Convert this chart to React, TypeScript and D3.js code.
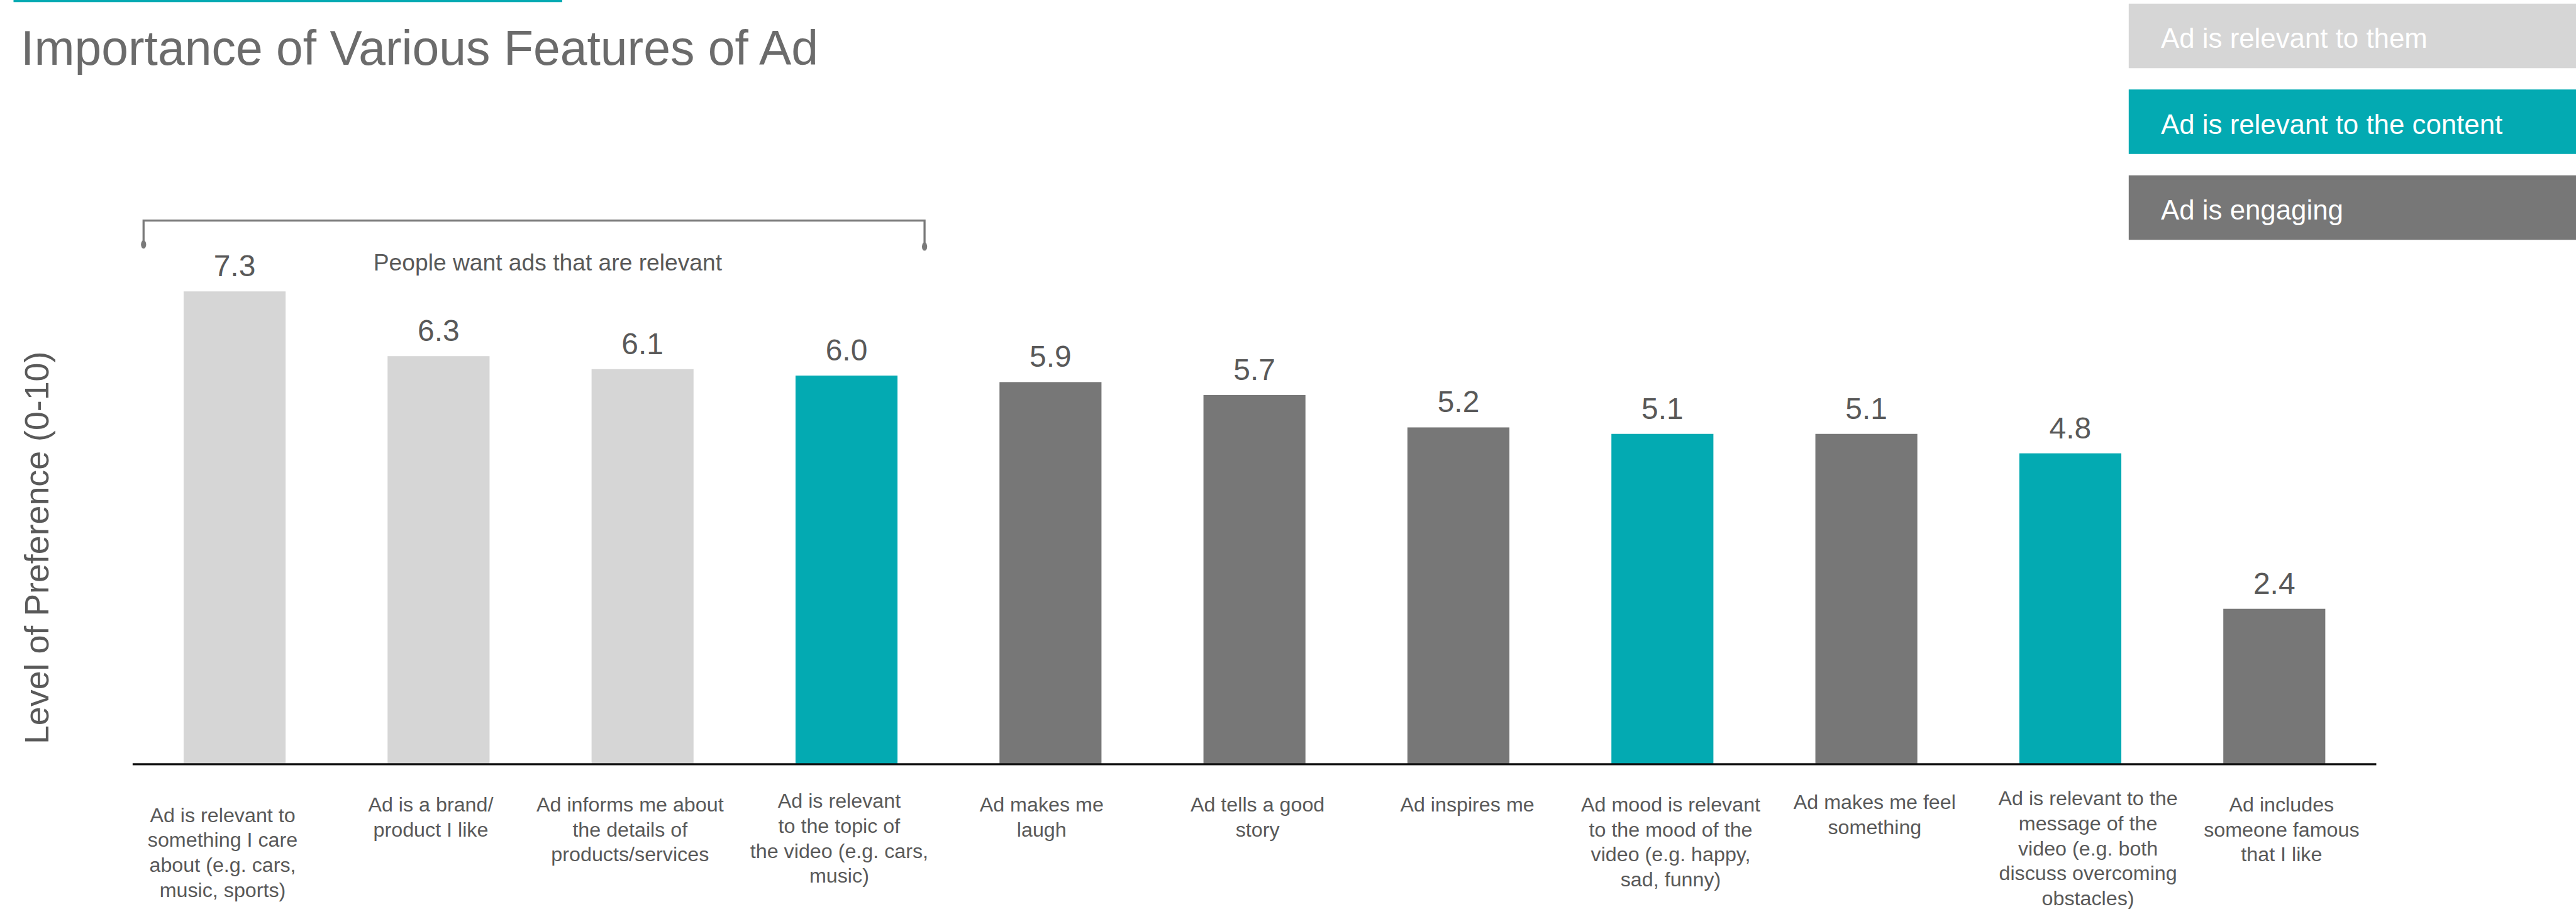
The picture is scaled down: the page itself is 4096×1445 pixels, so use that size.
import React from "react";
import * as d3 from "d3";

const labels: string[][] = [
  ["Ad is relevant to", "something I care", "about (e.g. cars,", "music, sports)"],
  ["Ad is a brand/", "product I like"],
  ["Ad informs me about", "the details of", "products/services"],
  ["Ad is relevant", "to the topic of", "the video (e.g. cars,", "music)"],
  ["Ad makes me", "laugh"],
  ["Ad tells a good", "story"],
  ["Ad inspires me"],
  ["Ad mood is relevant", "to the mood of the", "video (e.g. happy,", "sad, funny)"],
  ["Ad makes me feel", "something"],
  ["Ad is relevant to the", "message of the", "video (e.g. both", "discuss overcoming", "obstacles)"],
  ["Ad includes", "someone famous", "that I like"],
];
const values: number[] = [7.3, 6.3, 6.1, 6.0, 5.9, 5.7, 5.2, 5.1, 5.1, 4.8, 2.4];
const groups: string[] = [
  "them", "them", "them", "content", "engaging", "engaging", "engaging", "content", "engaging", "content", "engaging",
];
const legendKeys: string[] = ["them", "content", "engaging"];
const legendLabels: string[] = [
  "Ad is relevant to them",
  "Ad is relevant to the content",
  "Ad is engaging",
];
const title = "Importance of Various Features of Ad";
const yTitle = "Level of Preference (0-10)";
const annotation = "People want ads that are relevant";

// layout (reference pixel space)
const W = 4953;
const H = 1747;
const S = 4096 / W;
const FONT = "'Liberation Sans', Arial, Helvetica, sans-serif";
const labelDx = [-23, -15, -24, -14, -17, 6, 17, 16, 16, 34, 14];
const labelTop = [1580, 1560, 1560, 1553, 1560, 1560, 1560, 1560, 1555, 1548, 1560];

export default function App() {
  const idx = values.map((_, i) => String(i));
  const x = d3.scaleBand<string>().domain(idx).range([255, 4569]).paddingInner(0.5).paddingOuter(0.25);
  const y = d3.scaleLinear().domain([0, 10]).range([1469, 224]);
  const color = d3.scaleOrdinal<string, string>().domain(legendKeys).range(["#D6D6D6", "#03AAB2", "#777777"]);

  const bx0 = (x("0") as number) - 77;
  const bx1 = (x("3") as number) + x.bandwidth() + 52;

  return (
    <svg
      width={4096}
      height={1445}
      style={{ position: "absolute", left: 0, top: 0, display: "block", background: "#fff" }}
    >
      <g transform={`scale(${S})`} fontFamily={FONT}>
        {/* top accent line */}
        <rect x={26} y={0} width={1055} height={4} fill="#03AAB2" />
        {/* title */}
        <text x={40} y={125} fontSize={93} fill="#6b6b6b">
          {title}
        </text>

        {/* legend */}
        {legendKeys.map((k, i) => (
          <g key={k} transform={`translate(4093, ${7 + i * 165})`}>
            <rect x={0} y={0} width={W - 4093} height={124} fill={color(k)} />
            <text x={62} y={85} fontSize={53} fill="#ffffff">
              {legendLabels[i]}
            </text>
          </g>
        ))}

        {/* y axis title */}
        <text
          transform={`translate(93, 1053) rotate(-90)`}
          textAnchor="middle"
          fontSize={65}
          fill="#595959"
        >
          {yTitle}
        </text>

        {/* bracket annotation */}
        <path
          d={`M${bx0},470 V424 H${bx1} V474`}
          fill="none"
          stroke="#7a7a7a"
          strokeWidth={4}
        />
        <ellipse cx={bx0} cy={470} rx={5} ry={8} fill="#7a7a7a" />
        <ellipse cx={bx1} cy={474} rx={5} ry={8} fill="#7a7a7a" />
        <text x={718} y={520} fontSize={45} fill="#595959">
          {annotation}
        </text>

        {/* bars */}
        {values.map((v, i) => (
          <rect
            key={i}
            x={x(String(i))}
            y={y(v)}
            width={x.bandwidth()}
            height={y(0) - y(v)}
            fill={color(groups[i])}
          />
        ))}
        {/* value labels */}
        {values.map((v, i) => (
          <text
            key={"v" + i}
            x={(x(String(i)) as number) + x.bandwidth() / 2}
            y={y(v) - 29}
            textAnchor="middle"
            fontSize={58}
            fill="#595959"
          >
            {d3.format(".1f")(v)}
          </text>
        ))}

        {/* axis line */}
        <line x1={255} x2={4569} y1={y(0)} y2={y(0)} stroke="#111" strokeWidth={4} />

        {/* category labels */}
        {labels.map((lines, i) => (
          <text
            key={"l" + i}
            x={(x(String(i)) as number) + x.bandwidth() / 2 + labelDx[i]}
            y={labelTop[i]}
            textAnchor="middle"
            fontSize={39}
            fill="#595959"
          >
            {lines.map((ln, j) => (
              <tspan key={j} x={(x(String(i)) as number) + x.bandwidth() / 2 + labelDx[i]} dy={j === 0 ? 0 : 48}>
                {ln}
              </tspan>
            ))}
          </text>
        ))}
      </g>
    </svg>
  );
}
